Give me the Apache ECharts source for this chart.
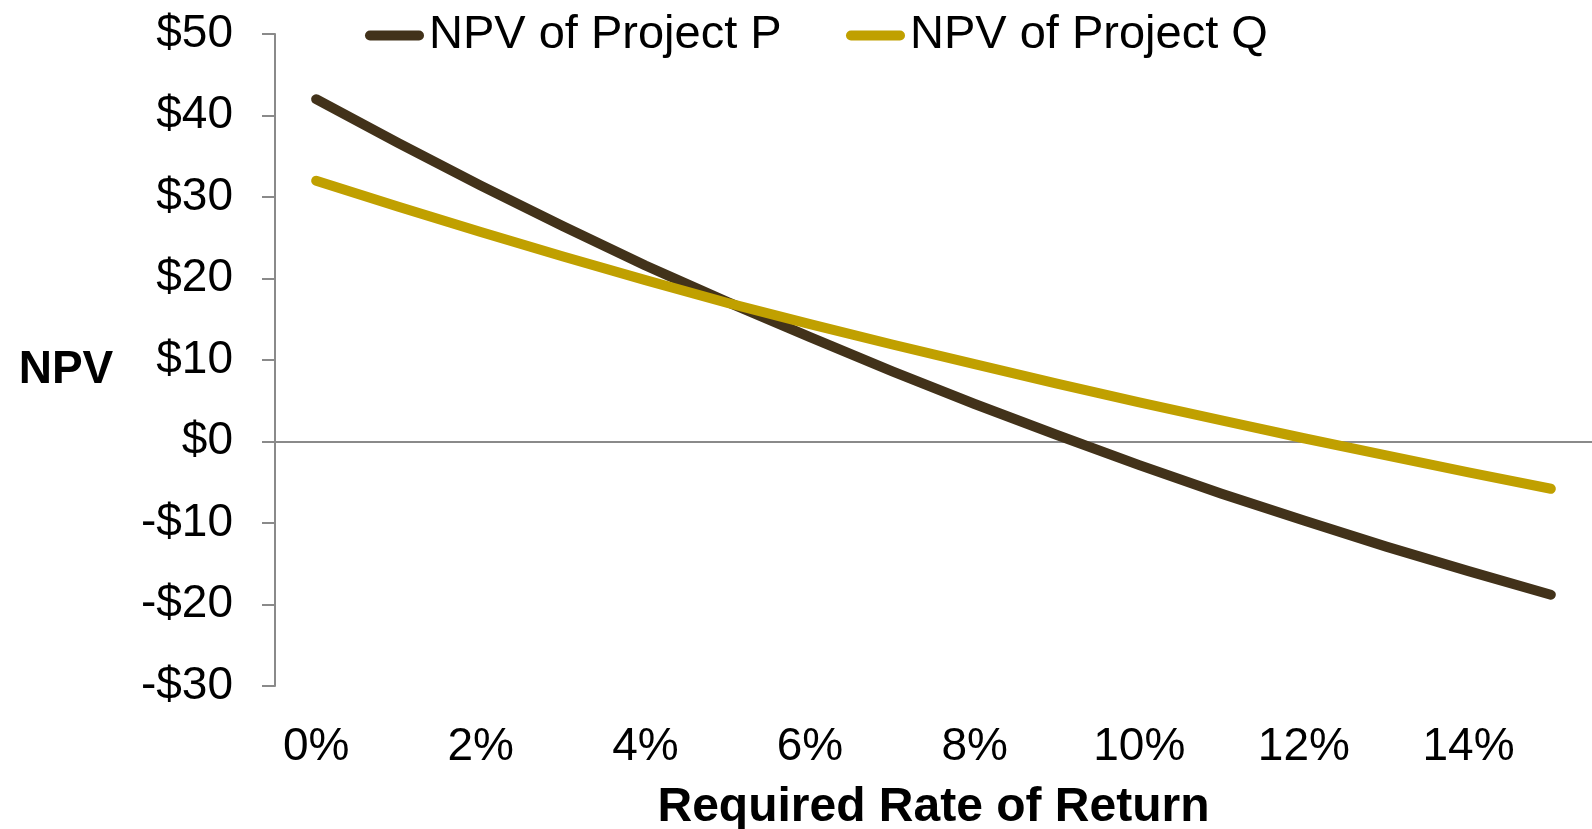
<!DOCTYPE html>
<html>
<head>
<meta charset="utf-8">
<script src="https://cdn.jsdelivr.net/npm/echarts@6/dist/echarts.min.js"></script>
<style>
html,body{margin:0;padding:0;background:#fff;}
#chart{width:1592px;height:829px;}
</style>
</head>
<body>
<div id="chart"></div>
<script>
// Data
var categories = ['0%','1%','2%','3%','4%','5%','6%','7%','8%','9%','10%','11%','12%','13%','14%','15%'];
var projectP = [42.0, 36.6, 31.4, 26.4, 21.6, 17.1, 12.8, 8.6, 4.6, 0.8, -2.9, -6.4, -9.7, -12.9, -15.9, -18.8];
var projectQ = [32.0, 28.8, 25.7, 22.7, 19.8, 17.0, 14.4, 11.9, 9.5, 7.1, 4.8, 2.6, 0.4, -1.7, -3.8, -5.8];
var seriesNames = ['NPV of Project P', 'NPV of Project Q'];
var yTicks = { min: -30, max: 50, interval: 10 };

var FONT = '"Liberation Sans", Arial, sans-serif';
var GRAY = '#8a8a8a';
var capsule = 'path://M5,0L54,0A5,5,0,0,1,54,10L5,10A5,5,0,0,1,5,0Z';

var chart = echarts.init(document.getElementById('chart'), null, {renderer: 'canvas'});
chart.setOption({
  animation: false,
  backgroundColor: '#fff',
  grid: { left: 275, right: 0, top: 34, bottom: 143, containLabel: false, outerBoundsMode: 'none' },
  legend: [
    {
      data: [seriesNames[0]], left: 365, top: 12, padding: 0,
      itemWidth: 59, itemHeight: 10, icon: capsule,
      textStyle: { fontFamily: FONT, fontSize: 47, color: '#000' }
    },
    {
      data: [seriesNames[1]], left: 846, top: 12, padding: 0,
      itemWidth: 59, itemHeight: 10, icon: capsule,
      textStyle: { fontFamily: FONT, fontSize: 47, color: '#000' }
    }
  ],
  xAxis: [
    {
      type: 'category',
      data: categories,
      boundaryGap: true,
      axisLine: { show: false, onZero: false },
      axisTick: { show: false },
      axisLabel: { interval: 1, fontFamily: FONT, fontSize: 46, color: '#000', margin: 38 },
      splitLine: { show: false },
      name: 'Required Rate of Return',
      nameLocation: 'middle',
      nameGap: 98,
      nameTextStyle: { fontFamily: FONT, fontSize: 48, fontWeight: 'bold', color: '#000' }
    },
    {
      type: 'category',
      data: categories,
      position: 'top',
      axisLine: { show: true, onZero: true, lineStyle: { color: GRAY, width: 2 } },
      axisTick: { show: false },
      axisLabel: { show: false },
      splitLine: { show: false }
    }
  ],
  yAxis: {
    type: 'value',
    min: yTicks.min, max: yTicks.max, interval: yTicks.interval,
    axisLine: { show: true, onZero: false, lineStyle: { color: GRAY, width: 2 } },
    axisTick: { show: true, length: 13, inside: false, lineStyle: { color: GRAY, width: 2 } },
    splitLine: { show: false },
    axisLabel: {
      fontFamily: FONT, fontSize: 46, color: '#000', margin: 42,
      formatter: function (v) { return v < 0 ? '-$' + Math.abs(v) : '$' + v; }
    }
  },
  graphic: [
    {
      type: 'text', x: 66, y: 370,
      style: {
        text: 'NPV', font: 'bold 46px ' + FONT, fill: '#000',
        align: 'center', verticalAlign: 'middle',
        textAlign: 'center', textVerticalAlign: 'middle'
      }
    }
  ],
  series: [
    {
      name: seriesNames[0], type: 'line', data: projectP,
      xAxisIndex: 0, symbol: 'none', smooth: false,
      color: '#42321a',
      lineStyle: { color: '#42321a', width: 10, cap: 'round', join: 'round' },
      emphasis: { disabled: true }
    },
    {
      name: seriesNames[1], type: 'line', data: projectQ,
      xAxisIndex: 0, symbol: 'none', smooth: false,
      color: '#c0a000',
      lineStyle: { color: '#c0a000', width: 10, cap: 'round', join: 'round' },
      emphasis: { disabled: true }
    }
  ]
});
</script>
</body>
</html>
